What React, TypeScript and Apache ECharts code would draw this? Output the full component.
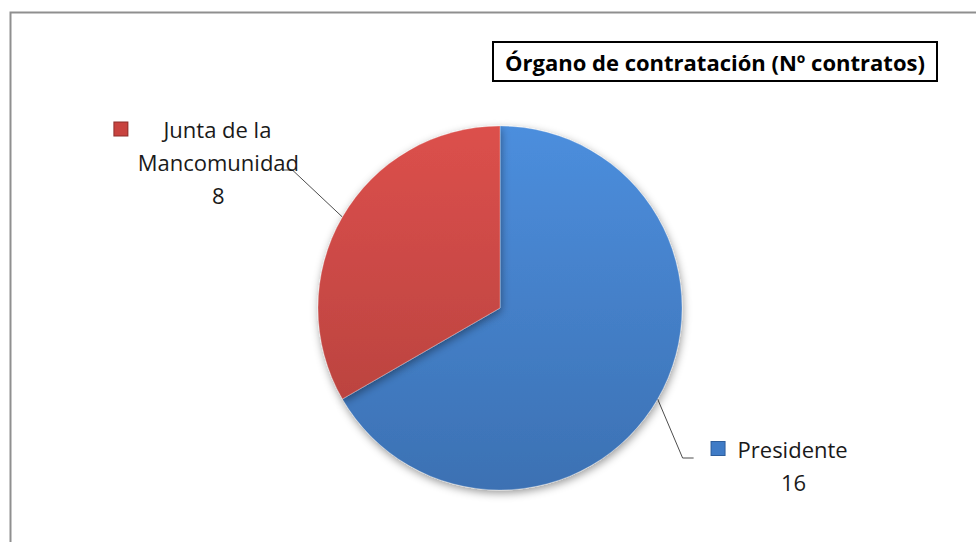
import React, { useEffect, useRef } from 'react';
import * as echarts from 'echarts';

const categories = ['Presidente', 'Junta de la Mancomunidad'];
const values = [16, 8];
const labelTextLines = [['Presidente'], ['Junta de la', 'Mancomunidad']];
const titleText = 'Órgano de contratación (Nº contratos)';

const FONT = '"Open Sans", Lato, sans-serif';

const sliceColors = [
  { top: '#4C8EDD', bottom: '#3C71B3', marker: '#3F7BC6', markerBorder: '#2E5E9C' },
  { top: '#DC504C', bottom: '#BC4340', marker: '#C8433F', markerBorder: '#8E2E2B' },
];

// label layout relative to each slice's label-line start point (on the pie edge)
const labelOffsets = [
  { dx: 136, dy: 66, line: [[25, 59], [36, 59]] },
  { dx: -124, dy: -55, line: [[-50, -47], [-60, -47]] },
];
const markerGap = [13, 36];
const markerSize = 15;

export default function App() {
  const ref = useRef<HTMLDivElement>(null);
  useEffect(() => {
    if (!ref.current) return;
    const chart = echarts.init(ref.current, null, { renderer: 'svg' });

    const rich: any = {
      t: { fontSize: 22, fontFamily: FONT, color: '#1a1a1a', lineHeight: 33 },
    };
    categories.forEach((_, i) => {
      rich['m' + i] = {
        width: markerSize - 2,
        height: markerSize - 2,
        backgroundColor: sliceColors[i].marker,
        borderColor: sliceColors[i].markerBorder,
        borderWidth: 1,
      };
      rich['g' + i] = { width: markerGap[i], height: 10 };
      rich['p' + i] = { width: markerSize + markerGap[i], height: 10 };
    });

    const data = categories.map((name, i) => ({
      name,
      value: values[i],
      itemStyle: {
        color: new echarts.graphic.LinearGradient(0, 0, 0, 1, [
          { offset: 0, color: sliceColors[i].top },
          { offset: 1, color: sliceColors[i].bottom },
        ]),
      },
    }));

    chart.setOption({
      animation: false,
      backgroundColor: '#ffffff',
      title: {
        text: titleText,
        left: 493,
        top: 42,
        padding: [6, 12, 6, 12],
        borderColor: '#000000',
        borderWidth: 2,
        textStyle: {
          fontFamily: FONT,
          fontWeight: 'bold',
          fontSize: 22,
          color: '#000000',
          lineHeight: 27,
        },
      },
      graphic: [
        {
          type: 'rect',
          left: 8,
          top: 10,
          shape: { x: 0, y: 0, width: 1000, height: 600 },
          style: { fill: 'none', stroke: '#8f8f8f', lineWidth: 2 },
          silent: true,
          z: -1,
        },
      ],
      series: [
        {
          type: 'pie',
          center: [500, 308],
          radius: 182,
          startAngle: 90,
          clockwise: true,
          data,
          itemStyle: {
            borderColor: 'rgba(255,255,255,0.25)',
            borderWidth: 1,
            shadowBlur: 8,
            shadowColor: 'rgba(0,0,0,0.4)',
            shadowOffsetX: 1,
            shadowOffsetY: 3,
          },
          emphasis: { disabled: true },
          label: {
            show: true,
            position: 'outside',
            align: 'center',
            rich,
            formatter: (p: any) => {
              const i = p.dataIndex;
              const lines = labelTextLines[i];
              const first = `{m${i}|}{g${i}|}{t|${lines[0]}}{p${i}|}`;
              const rest = lines.slice(1).map((l) => `{t|${l}}`);
              return [first, ...rest, `{t|${p.value}}`].join('\n');
            },
          },
          labelLine: {
            show: true,
            length: 20,
            length2: 10,
            lineStyle: { color: '#4d4d4d', width: 1 },
          },
          labelLayout: (params: any) => {
            const i = params.dataIndex;
            const o = labelOffsets[i];
            const start = params.labelLinePoints ? params.labelLinePoints[0] : [0, 0];
            const pts = [
              [start[0], start[1]],
              [start[0] + o.line[0][0], start[1] + o.line[0][1]],
              [start[0] + o.line[1][0], start[1] + o.line[1][1]],
            ];
            return {
              x: start[0] + o.dx,
              y: start[1] + o.dy,
              align: 'center',
              verticalAlign: 'middle',
              labelLinePoints: pts,
            };
          },
        },
      ],
    });
    return () => chart.dispose();
  }, []);

  return (
    <div
      ref={ref}
      style={{ position: 'fixed', left: 0, top: 0, width: 976, height: 542, background: '#fff' }}
    />
  );
}
